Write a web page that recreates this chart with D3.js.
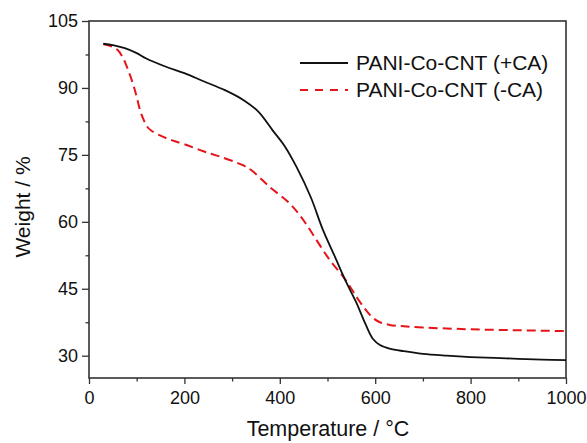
<!DOCTYPE html>
<html>
<head>
<meta charset="utf-8">
<script src="https://cdn.jsdelivr.net/npm/d3@7"></script>
<style>
  body { margin: 0; background: #fff; }
  svg { font-family: "Liberation Sans", Arial, sans-serif; }
</style>
</head>
<body>
<div id="chart"></div>
<script>
// PANI-Co-CNT (+CA)
var tempPlus = [30, 50, 75, 100, 120, 160, 200, 240, 285, 325, 355, 385, 410, 435, 465, 490, 515, 540, 560, 580, 595, 610, 630, 660, 700, 750, 800, 850, 900, 950, 1000];
var weightPlus = [99.9, 99.6, 98.9, 97.8, 96.6, 94.8, 93.3, 91.5, 89.5, 87.2, 84.7, 80.5, 77, 72.3, 65.5, 58.3, 52.3, 46.3, 42, 37, 33.8, 32.4, 31.6, 31, 30.4, 30.0, 29.7, 29.5, 29.3, 29.1, 29.0];

// PANI-Co-CNT (-CA)
var tempMinus = [30, 45, 60, 72, 82, 92, 100, 107, 114, 122, 131, 150, 173, 200, 240, 275, 320, 340, 380, 420, 450, 477, 505, 533, 550, 565, 580, 595, 610, 630, 660, 700, 750, 800, 850, 900, 950, 1000];
var weightMinus = [99.8, 99.4, 98.5, 96.6, 94, 91, 88, 85, 83, 81.3, 80.4, 79.3, 78.3, 77.4, 75.8, 74.6, 72.8, 71.6, 67.7, 64.2, 60.3, 55.9, 51.4, 47.7, 45, 42.5, 40.3, 38.5, 37.5, 36.9, 36.6, 36.3, 36.1, 35.9, 35.8, 35.7, 35.6, 35.5];

var seriesNames = ["PANI-Co-CNT (+CA)", "PANI-Co-CNT (-CA)"];
var xTicks = [0, 200, 400, 600, 800, 1000];
var yTicks = [30, 45, 60, 75, 90, 105];

var W = 587, H = 443;
var margin = { top: 21, right: 21, bottom: 65, left: 89 };
var width = W - margin.left - margin.right, height = H - margin.top - margin.bottom;

var svg = d3.select("#chart").append("svg").attr("width", W).attr("height", H);
var g = svg.append("g").attr("transform", `translate(${margin.left},${margin.top})`);

var x = d3.scaleLinear().domain([0, 1000]).range([0, width]);
var y = d3.scaleLinear().domain([25, 105]).range([height, 0]);

// eixos com ticks menores
var xMinor = d3.range(100, 1000, 200);
var yMinor = d3.range(37.5, 105, 15);

g.append("g").attr("transform", `translate(0,${height})`)
  .call(d3.axisBottom(x).tickValues(xMinor).tickSize(3.5).tickFormat(""))
  .call(a => a.select(".domain").remove());
g.append("g").attr("transform", `translate(0,${height})`)
  .call(d3.axisBottom(x).tickValues(xTicks).tickSize(6).tickPadding(7).tickFormat(d3.format("d")))
  .call(a => a.select(".domain").remove())
  .selectAll("text").attr("font-size", 18).attr("fill", "#111");

g.append("g")
  .call(d3.axisLeft(y).tickValues(yMinor).tickSize(3.5).tickFormat(""))
  .call(a => a.select(".domain").remove());
g.append("g")
  .call(d3.axisLeft(y).tickValues(yTicks).tickSize(7).tickPadding(4))
  .call(a => a.select(".domain").remove())
  .selectAll("text").attr("font-size", 18).attr("fill", "#111");

g.selectAll(".tick line").attr("stroke", "#333").attr("stroke-width", 1.3);

// moldura
g.append("rect").attr("width", width).attr("height", height)
  .attr("fill", "none").attr("stroke", "#333").attr("stroke-width", 1.6);

var line = d3.line().x(d => x(d[0])).y(d => y(d[1])).curve(d3.curveCatmullRom.alpha(0.5));

g.append("path").datum(d3.zip(tempMinus, weightMinus))
  .attr("d", line).attr("fill", "none")
  .attr("stroke", "#e5141b").attr("stroke-width", 2).attr("stroke-dasharray", "9,5");

g.append("path").datum(d3.zip(tempPlus, weightPlus))
  .attr("d", line).attr("fill", "none")
  .attr("stroke", "#111").attr("stroke-width", 1.8);

// legenda
var legend = svg.append("g");
seriesNames.forEach(function (name, i) {
  var ly = 63 + i * 27;
  legend.append("line").attr("x1", 300).attr("x2", 348).attr("y1", ly).attr("y2", ly)
    .attr("stroke", i === 0 ? "#111" : "#e5141b").attr("stroke-width", i === 0 ? 1.8 : 2)
    .attr("stroke-dasharray", i === 0 ? null : "8,7");
  legend.append("text").attr("x", 356).attr("y", ly).attr("dy", "0.35em")
    .attr("font-size", 21).attr("fill", "#111").text(name);
});

// títulos dos eixos
svg.append("text").attr("x", 328).attr("y", 436).attr("text-anchor", "middle")
  .attr("font-size", 21.5).attr("fill", "#111").text("Temperature / °C");
svg.append("text").attr("transform", "translate(30,207) rotate(-90)")
  .attr("text-anchor", "middle").attr("font-size", 21).attr("fill", "#111").text("Weight / %");
</script>
</body>
</html>
